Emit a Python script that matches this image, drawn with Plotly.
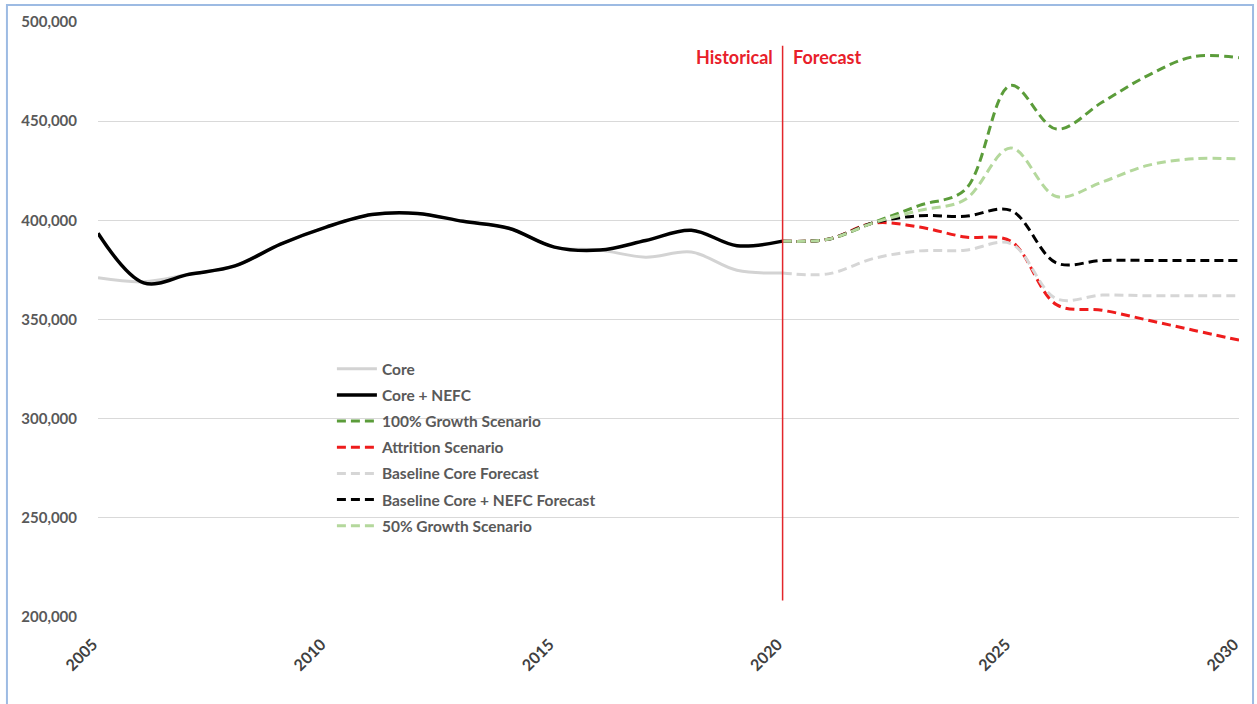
import plotly.graph_objects as go

# ---------------- data ----------------
hist_years = list(range(2005, 2021))
core = [371000, 369000, 372800, 377000, 388000, 396600, 402900, 403500,
        399500, 396000, 386500, 385000, 381400, 384000, 374800, 373500]
core_nefc = [393500, 368500, 372800, 377000, 388000, 396600, 402900, 403500,
             399500, 396000, 386500, 385000, 389800, 395000, 387200, 389500]

fc_years = list(range(2020, 2031))
growth100 = [389500, 390500, 399000, 407500, 415500, 468000, 446000, 459500, 473000, 482500, 482000]
attrition = [389500, 390500, 398600, 396600, 391600, 389500, 357500, 354700, 349700, 344600, 339600]
base_core = [373500, 373000, 380800, 384600, 384900, 388300, 360500, 362300, 362000, 362000, 362000]
base_nefc = [389500, 390500, 398800, 402300, 402000, 405000, 378500, 379800, 379800, 379800, 379800]
growth50 = [389500, 390500, 398800, 405000, 410500, 436500, 412000, 419300, 427700, 431000, 431000]

y_ticks = [200000, 250000, 300000, 350000, 400000, 450000, 500000]
x_ticks = [2005, 2010, 2015, 2020, 2025, 2030]

FONT = "Lato, 'Open Sans', sans-serif"
TXT = "#595959"
DASH = "9px,5px"

series = [
    ("Core", hist_years, core, "#d3d3d3", 3, "solid"),
    ("Core + NEFC", hist_years, core_nefc, "#000000", 3.5, "solid"),
    ("100% Growth Scenario", fc_years, growth100, "#5b9c3a", 3, DASH),
    ("Attrition Scenario", fc_years, attrition, "#ee1c1c", 3, DASH),
    ("Baseline Core Forecast", fc_years, base_core, "#d6d6d6", 3, DASH),
    ("Baseline Core + NEFC Forecast", fc_years, base_nefc, "#000000", 3, DASH),
    ("50% Growth Scenario", fc_years, growth50, "#b4d89c", 3, DASH),
]

fig = go.Figure()
for i, (name, xs, ys, col, w, dash) in enumerate(series):
    fig.add_trace(go.Scatter(
        x=xs, y=ys, name=name, mode="lines",
        line=dict(color=col, width=w, dash=dash, shape="spline", smoothing=1.0),
        legendgroup=f"g{i}",
    ))

# Historical / Forecast divider
fig.add_shape(type="line", xref="x", yref="y", x0=2020, x1=2020, y0=208300, y1=488000,
              line=dict(color="#e3262b", width=1.5))
fig.add_annotation(x=2020, y=482500, xref="x", yref="y", text="<b>Historical</b>",
                   showarrow=False, xanchor="right", xshift=-8,
                   font=dict(family=FONT, size=18, color="#e8202a"))
fig.add_annotation(x=2020, y=482500, xref="x", yref="y", text="<b>Forecast</b>",
                   showarrow=False, xanchor="left", xshift=8,
                   font=dict(family=FONT, size=18, color="#e8202a"))

# outer frame
fig.add_shape(type="rect", xref="paper", yref="paper",
              x0=-0.0798, x1=1.0123, y0=-0.2, y1=1.0285,
              line=dict(color="#9dbbe3", width=2), fillcolor="rgba(0,0,0,0)", layer="below")

fig.update_layout(
    width=1257, height=704,
    margin=dict(l=98, r=18, t=20, b=87),
    paper_bgcolor="white", plot_bgcolor="white",
    font=dict(family=FONT, color=TXT),
    showlegend=True,
    legend=dict(
        x=0.205, y=0.445, xanchor="left", yanchor="top",
        bgcolor="rgba(0,0,0,0)", traceorder="grouped", tracegroupgap=3,
        font=dict(family=FONT, size=15.5, color=TXT, weight="bold"),
        itemwidth=40,
    ),
    xaxis=dict(
        range=[2005, 2030], tickvals=x_ticks, ticktext=[str(v) for v in x_ticks],
        tickangle=-45, showgrid=False, zeroline=False, showline=False,
        ticklabelstandoff=14, ticklabelshift=-5,
        tickfont=dict(family=FONT, size=16, color="#404040", weight="bold"),
    ),
    yaxis=dict(
        range=[200000, 500000], tickvals=y_ticks, tickformat=",",
        showgrid=True, gridcolor="#d9d9d9", gridwidth=1, zeroline=False, showline=False,
        ticklabelstandoff=20,
        tickfont=dict(family=FONT, size=15, color=TXT, weight="bold"),
    ),
)

fig.write_html("out.html")
